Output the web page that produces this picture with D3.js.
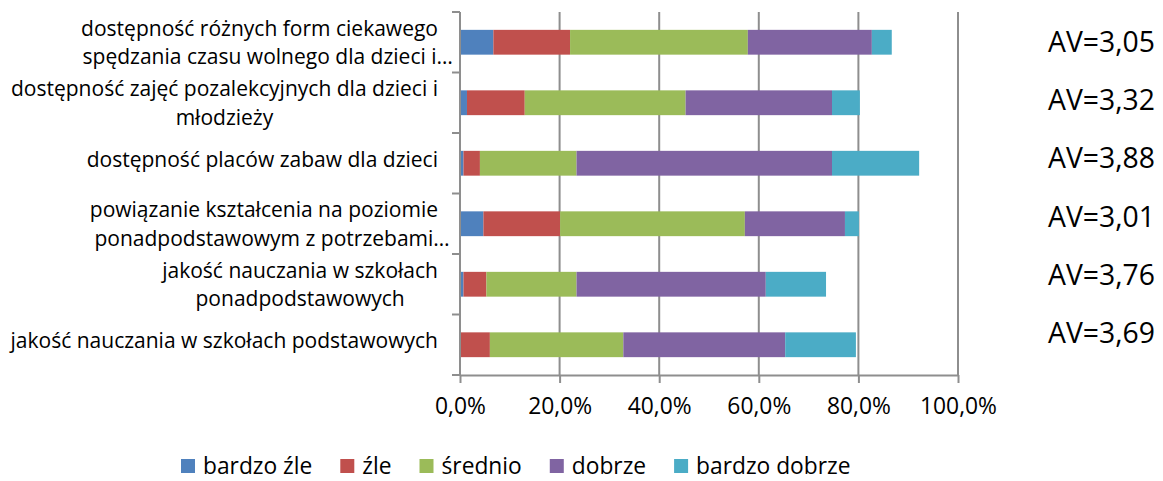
<!DOCTYPE html>
<html>
<head>
<meta charset="utf-8">
<script src="https://cdn.jsdelivr.net/npm/d3@7"></script>
<style>
  body { margin: 0; background: white; }
  text { font-family: "Open Sans", Lato, sans-serif; fill: #000; }
</style>
</head>
<body>
<div id="chart"></div>
<script>
//Data (percent of answers)

var categories = [
  ["dostępność różnych form ciekawego", "spędzania czasu wolnego dla dzieci i…"],
  ["dostępność zajęć pozalekcyjnych dla dzieci i", "młodzieży"],
  ["dostępność placów zabaw dla dzieci"],
  ["powiązanie kształcenia na poziomie", "ponadpodstawowym z potrzebami…"],
  ["jakość nauczania w szkołach", "ponadpodstawowych"],
  ["jakość nauczania w szkołach podstawowych"]
];

var seriesNames = ["bardzo źle", "źle", "średnio", "dobrze", "bardzo dobrze"];

var bardzoZle    = [6.7, 1.4, 0.7, 4.7, 0.7, 0.0];
var zle          = [15.4, 11.6, 3.3, 15.4, 4.6, 6.0];
var srednio      = [35.7, 32.3, 19.4, 37.1, 18.1, 26.8];
var dobrze       = [24.9, 29.4, 51.3, 20.1, 38.0, 32.5];
var bardzoDobrze = [4.0, 5.6, 17.5, 2.8, 12.1, 14.2];

var averages = ["AV=3,05", "AV=3,32", "AV=3,88", "AV=3,01", "AV=3,76", "AV=3,69"];

var xTicks = [0, 20, 40, 60, 80, 100];

var colors = ["#4F81BD", "#C0504D", "#9BBB59", "#8064A2", "#4BACC6"];

//Base svg

var width = 1163, height = 481;

var svg = d3.select("#chart")
            .append("svg")
            .attr("width", width)
            .attr("height", height)
            .style("background-color", "white");

//font size so that the measured width of some strings hits a target width
function fitFont(strings, target, useSum) {
  var probe = svg.append("text").attr("font-size", 20);
  var ws = strings.map(function(s) { return probe.text(s).node().getComputedTextLength(); });
  probe.remove();
  var w = useSum ? d3.sum(ws) : d3.max(ws);
  return 20 * target / w;
}

var ids = categories.map(function(c, i) { return "c" + i; });

var x = d3.scaleLinear()
          .domain([0, 100])
          .range([460, 958]);

var y = d3.scaleBand()
          .domain(ids)
          .range([12, 375])
          .paddingInner(0.59)
          .paddingOuter(0.295);

//stack the five series
var rows = ids.map(function(id, i) {
  return { id: id, s0: bardzoZle[i], s1: zle[i], s2: srednio[i], s3: dobrze[i], s4: bardzoDobrze[i] };
});
var stack = d3.stack().keys(["s0", "s1", "s2", "s3", "s4"]);
var layers = stack(rows);

var gridColor = "#8e8e8e";

//Vertical gridlines
svg.append("g")
   .selectAll("line")
   .data(xTicks.slice(1))
   .enter()
   .append("line")
   .attr("x1", function(d) { return x(d); })
   .attr("x2", function(d) { return x(d); })
   .attr("y1", 12)
   .attr("y2", 375)
   .attr("stroke", gridColor)
   .attr("stroke-width", 2);

//Bars
svg.append("g")
   .selectAll("g")
   .data(layers)
   .enter()
   .append("g")
   .attr("fill", function(d, i) { return colors[i]; })
   .selectAll("rect")
   .data(function(d) { return d; })
   .enter()
   .append("rect")
   .attr("x", function(d) { return x(d[0]); })
   .attr("width", function(d) { return x(d[1]) - x(d[0]); })
   .attr("y", function(d) { return y(d.data.id); })
   .attr("height", y.bandwidth());

//X axis
var tickFormat = function(d) { return d.toFixed(1).replace(".", ",") + "%"; };
var tickSize = fitFont([tickFormat(100)], 77);

var xAxis = svg.append("g")
   .attr("transform", "translate(0,375)")
   .call(d3.axisBottom(x)
           .tickValues(xTicks)
           .tickSizeInner(8)
           .tickSizeOuter(0)
           .tickPadding(15)
           .tickFormat(tickFormat));

xAxis.select(".domain").attr("stroke", gridColor).attr("stroke-width", 2);
xAxis.selectAll(".tick line").attr("stroke", gridColor).attr("stroke-width", 2);
xAxis.selectAll(".tick text")
     .attr("font-family", null)
     .attr("font-size", tickSize)
     .attr("fill", "#000");

//Y axis line + ticks at band borders
var yEdges = ids.map(function(id) { return y(id) - y.step() * y.paddingInner() / 2; });
yEdges.push(375);

svg.append("line")
   .attr("x1", 460).attr("x2", 460)
   .attr("y1", 12).attr("y2", 375)
   .attr("stroke", gridColor)
   .attr("stroke-width", 2);

svg.append("g")
   .selectAll("line")
   .data(yEdges)
   .enter()
   .append("line")
   .attr("x1", 452).attr("x2", 460)
   .attr("y1", function(d) { return d; })
   .attr("y2", function(d) { return d; })
   .attr("stroke", gridColor)
   .attr("stroke-width", 2);

//Category labels (block right aligned, lines centered inside)
var allLines = [].concat.apply([], categories).map(function(s) { return s.replace("…", ""); });
var labelSize = fitFont(allLines, 428), lineHeight = 28.5, labelRight = 438;

categories.forEach(function(lines, i) {
  var cy = y(ids[i]) + y.bandwidth() / 2;
  var first = lines.length > 1 ? cy - lineHeight / 2 + 7.5 : cy + 3.5;
  var g = svg.append("g");
  var texts = lines.map(function(line, j) {
    return g.append("text")
            .attr("font-size", labelSize)
            .attr("y", first + j * lineHeight)
            .text(line.replace("…", ""));
  });
  var widths = texts.map(function(t) { return t.node().getComputedTextLength(); });
  var center = labelRight - d3.max(widths) / 2;
  texts.forEach(function(t, j) {
    t.attr("x", center - widths[j] / 2).text(lines[j]);
  });
});

//Average annotations on the right
var yAv = d3.scalePoint()
            .domain(ids)
            .range([52, 343]);

var avSize = fitFont(averages, 107);

svg.append("g")
   .selectAll("text")
   .data(averages)
   .enter()
   .append("text")
   .attr("x", 1155)
   .attr("y", function(d, i) { return yAv(ids[i]); })
   .attr("text-anchor", "end")
   .attr("font-size", avSize)
   .text(function(d) { return d; });

//Legend
var legendSize = fitFont(seriesNames, 448, true);
var legend = svg.append("g");
var lx = 181;
seriesNames.forEach(function(name, i) {
  legend.append("rect")
        .attr("x", lx)
        .attr("y", 459)
        .attr("width", 14)
        .attr("height", 14)
        .attr("fill", colors[i]);
  var t = legend.append("text")
        .attr("x", lx + 22)
        .attr("y", 474)
        .attr("font-size", legendSize)
        .text(name);
  lx += 22 + t.node().getComputedTextLength() + 28;
});
</script>
</body>
</html>
